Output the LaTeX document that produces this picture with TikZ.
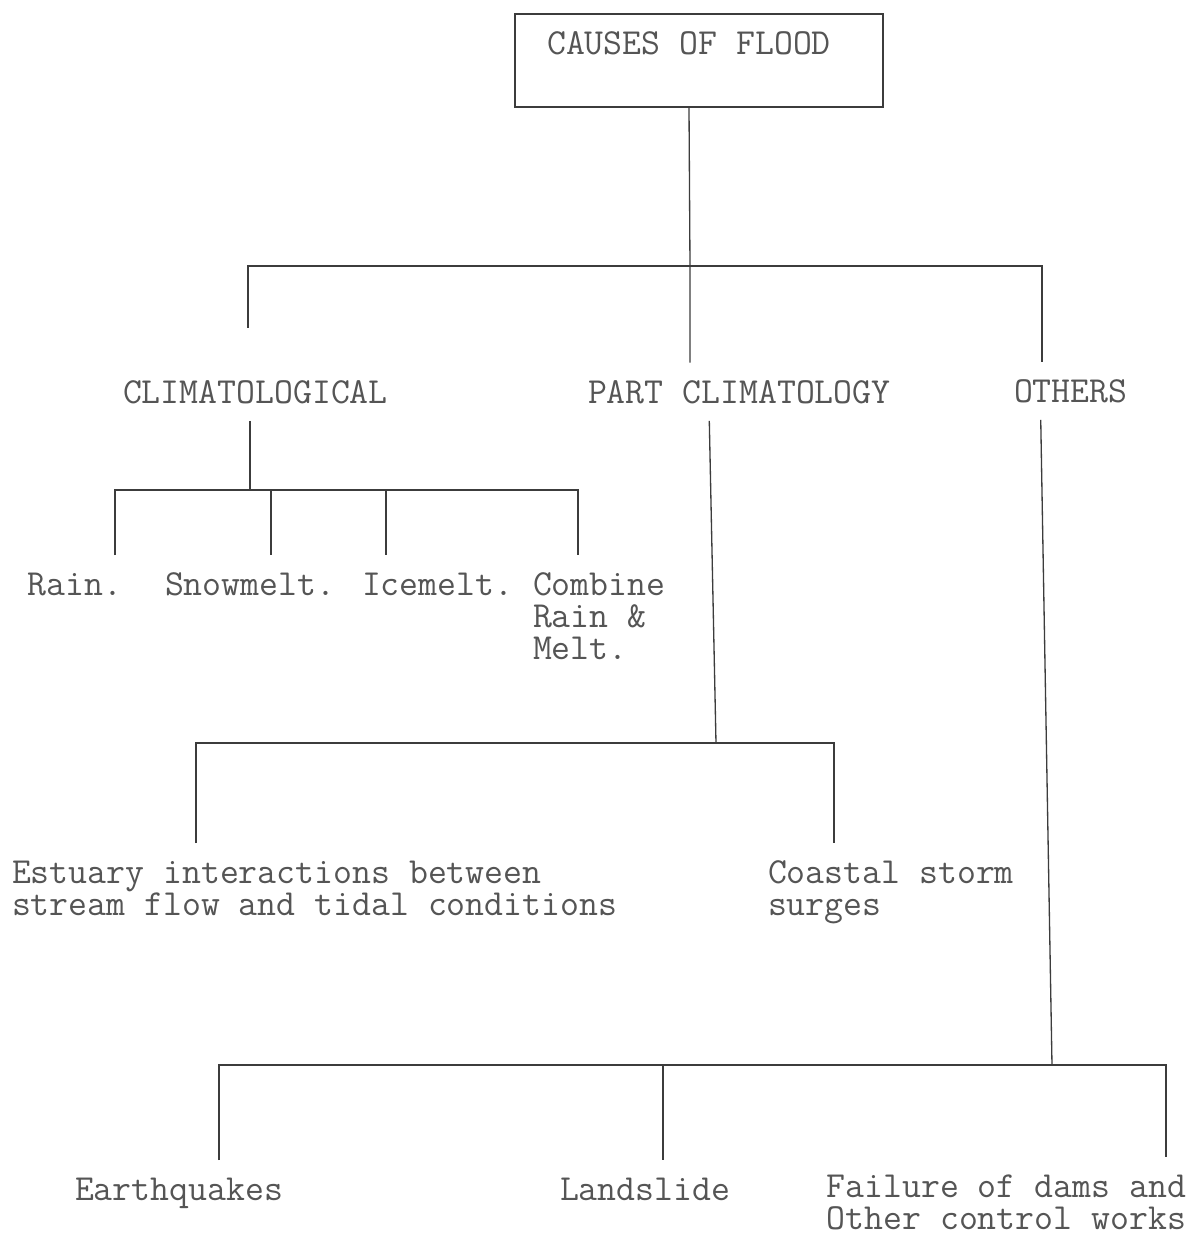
\documentclass[tikz,border=0pt]{standalone}
\usepackage{tikz}
\usetikzlibrary{positioning}
\usepackage{xcolor}
\definecolor{inkline}{HTML}{3C3C3C}
\definecolor{inktext}{HTML}{555555}

\begin{document}
\begin{tikzpicture}[x=0.02cm, y=-0.02cm,
            every node/.style={font=\ttfamily\fontsize{20.9}{18.2}\selectfont, text=inktext},
            lbl/.style={inner sep=0pt, outer xsep=0pt, outer ysep=0.35cm, anchor=base west},
            link/.style={draw=inkline, line width=0.75pt}]
            \fill[white] (0,0) rectangle (1190,1235);
            \useasboundingbox (0,0) rectangle (1190,1235);

            \node[draw=inkline, line width=0.75pt, minimum width=7.36cm, inner sep=0pt,
                  text height=0.8cm, text depth=1.06cm] (root) at (699,60.5) {CAUSES OF FLOOD\kern0.4cm};

            \node[lbl] (clim) at (123,403) {CLIMATOLOGICAL};
            \node[lbl] (partc) at (588,403) {PART CLIMATOLOGY};
            \node[lbl] (others) at (1014,402) {OTHERS};

            \node[lbl] (rain) at (28,595) {Rain.};
            \node[lbl] (snow) at (165,595) {Snowmelt.};
            \node[lbl] (ice) at (362,595) {Icemelt.};
            \node[lbl, align=left] (comb) at (533,659) {Combine\\Rain \&\\Melt.};

            \node[lbl, align=left] (estu) at (12,915) {Estuary interactions between\\stream flow and tidal conditions};
            \node[lbl, align=left] (coast) at (768,915) {Coastal storm\\surges};

            \node[lbl] (quake) at (75,1200) {Earthquakes};
            \node[lbl] (slide) at (560,1200) {Landslide};
            \node[lbl, align=right, anchor=base east] (dams) at (1186,1229) {Failure of dams and\\Other control works};

            \coordinate (t1) at (690,266);
            \coordinate (b1l) at (248,266);
            \coordinate (b1r) at (1042,266);
            \draw[link] ([xshift=-0.2cm]root.south) -- (t1) -- (t1 |- partc.north);
            \draw[link] ([yshift=0.7cm]b1l |- clim.north) -- (b1l) -- (b1r) -- (b1r |- others.north);

            \coordinate (c2) at (250,490);
            \coordinate (c2l) at (115,490);
            \coordinate (c2s) at (271,490);
            \coordinate (c2i) at (386,490);
            \coordinate (c2r) at (578,490);
            \draw[link] (clim.south -| c2) -- (c2);
            \draw[link] (c2l |- rain.north) -- (c2l) -- (c2r) -- (c2r |- comb.north);
            \draw[link] (c2s) -- (c2s |- snow.north);
            \draw[link] (c2i) -- (c2i |- ice.north);

            \coordinate (p2) at (716,743);
            \coordinate (p2l) at (196,743);
            \coordinate (p2r) at (834,743);
            \draw[link] ([xshift=-0.6cm]partc.south) -- (p2);
            \draw[link] (p2l |- estu.north) -- (p2l) -- (p2r) -- (p2r |- coast.north);

            \coordinate (o2) at (1052,1065);
            \coordinate (o2l) at (219,1065);
            \coordinate (o2m) at (663,1065);
            \coordinate (o2r) at (1166,1065);
            \draw[link] ([xshift=-0.6cm]others.south) -- (o2);
            \draw[link] (o2l |- quake.north) -- (o2l) -- (o2r) -- (o2r |- dams.north);
            \draw[link] (o2m) -- (o2m |- slide.north);
        \end{tikzpicture}
\end{document}
